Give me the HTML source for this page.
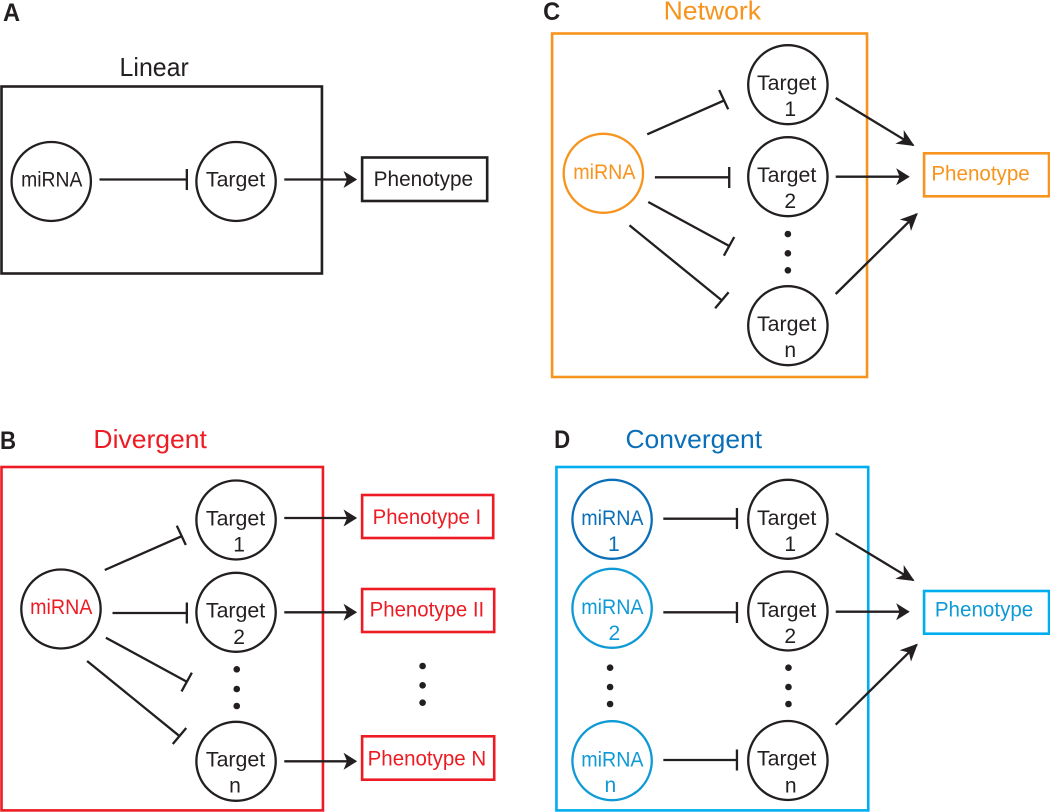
<!DOCTYPE html>
<html><head><meta charset="utf-8"><style>
html,body{margin:0;padding:0;background:#fff}
svg{display:block}
text{font-family:"Liberation Sans",sans-serif;font-size:21px;fill:#231f20}
.h{font-size:26px}
.l{font-size:25px;font-weight:bold}
.b{fill:none;stroke-width:2.6}
.c{fill:#fff;fill-opacity:0;stroke:#231f20;stroke-width:2.3}
.i{stroke:#231f20;stroke-width:2.3;fill:none}
.a{stroke:#231f20;stroke-width:2.3;fill:none;marker-end:url(#ah)}
.g{stroke:#231f20;stroke-width:2.3;fill:none;marker-end:url(#ag)}
.d{fill:#231f20}
.o{fill:#f7941e}.r{fill:#ed1c24}.u{fill:#0f9ad6}.v{fill:#0a6fb8}
</style></head><body>
<svg width="1050" height="812" viewBox="0 0 1050 812" xmlns="http://www.w3.org/2000/svg">
<defs>
<marker id="ah" markerUnits="userSpaceOnUse" markerWidth="16" markerHeight="18" refX="12" refY="9" orient="auto">
<path d="M0,0.5 L13.5,9 L0,17.5 L3.5,9 Z" fill="#231f20"/>
</marker>
<marker id="ag" markerUnits="userSpaceOnUse" markerWidth="20" markerHeight="18" refX="16" refY="9" orient="auto">
<path d="M0,1 L17.5,9 L0,17 L5,9 Z" fill="#231f20"/>
</marker>
</defs>

<!-- Panel A -->
<g transform="scale(1.0045,1)">
<text class="l" x="3" y="21" textLength="17" lengthAdjust="spacingAndGlyphs">A</text>
<text class="h" x="119" y="76" textLength="69" lengthAdjust="spacingAndGlyphs">Linear</text>
<rect class="b" x="1.5" y="86.5" width="319" height="187" stroke="#231f20"/>
<circle class="c" cx="51" cy="181.5" r="39.5"/>
<circle class="c" cx="235" cy="181.5" r="39.5"/>
<text x="21" y="186.7" textLength="61" lengthAdjust="spacingAndGlyphs">miRNA</text>
<text x="205" y="186.7" textLength="59" lengthAdjust="spacingAndGlyphs">Target</text>
<path class="i" d="M99,179.5H186M186,169V190"/>
<path class="a" d="M283,179.5H354"/>
<rect class="b" x="360.5" y="157.5" width="124.5" height="43.5" stroke="#231f20"/>
<text x="372" y="186" textLength="99" lengthAdjust="spacingAndGlyphs">Phenotype</text>
</g>

<!-- Panel B -->
<g transform="scale(1.0045,1)">
<text class="l" x="0" y="449" textLength="16" lengthAdjust="spacingAndGlyphs">B</text>
<text class="h r" x="93" y="448" textLength="113" lengthAdjust="spacingAndGlyphs">Divergent</text>
<rect class="b" x="1.5" y="467" width="320" height="343.4" stroke="#ed1c24"/>
<circle class="c" cx="60.7" cy="609" r="39.5"/>
<text class="r" x="30" y="614" textLength="62" lengthAdjust="spacingAndGlyphs">miRNA</text>
<circle class="c" cx="235" cy="520" r="39.5"/>
<circle class="c" cx="235" cy="612.3" r="39.5"/>
<circle class="c" cx="235" cy="761.3" r="39.5"/>
<text x="205" y="525.7" textLength="59" lengthAdjust="spacingAndGlyphs">Target</text>
<text x="238" y="551.7" text-anchor="middle">1</text>
<text x="205" y="617.7" textLength="59" lengthAdjust="spacingAndGlyphs">Target</text>
<text x="238" y="644" text-anchor="middle">2</text>
<text x="205" y="766.7" textLength="59" lengthAdjust="spacingAndGlyphs">Target</text>
<text x="234" y="792.7" text-anchor="middle">n</text>
<path class="i" d="M104.3,570L180.3,536.4M176,525.7L185,545"/>
<path class="i" d="M112,613H186M186,602.5V623.5"/>
<path class="i" d="M105.4,637.7L186,681.7M191,672.7L180.7,691.4"/>
<path class="i" d="M86.7,661L179.4,736.7M185.4,728L172,744"/>
<circle class="d" cx="235.7" cy="669.3" r="3.3"/><circle class="d" cx="235.7" cy="689" r="3.3"/><circle class="d" cx="235.7" cy="706" r="3.3"/>
<path class="a" d="M283,518H354"/>
<path class="a" d="M283,612.3H354"/>
<path class="a" d="M283,761.3H354"/>
<rect class="b" x="360.5" y="495" width="130.5" height="43" stroke="#ed1c24"/>
<rect class="b" x="360.5" y="589" width="131.5" height="43" stroke="#ed1c24"/>
<rect class="b" x="360.5" y="736.3" width="131.5" height="43.4" stroke="#ed1c24"/>
<text class="r" x="371" y="524" textLength="108" lengthAdjust="spacingAndGlyphs">Phenotype I</text>
<text class="r" x="368" y="616.7" textLength="114" lengthAdjust="spacingAndGlyphs">Phenotype II</text>
<text class="r" x="366" y="765.7" textLength="118" lengthAdjust="spacingAndGlyphs">Phenotype N</text>
<circle class="d" cx="420.7" cy="666" r="3.3"/><circle class="d" cx="420.7" cy="685.3" r="3.3"/><circle class="d" cx="420.7" cy="702.7" r="3.3"/>
</g>

<!-- Panel C -->
<g transform="translate(525,0) scale(1.0045,1) translate(-525,0)">
<text class="l" x="543" y="20" textLength="17" lengthAdjust="spacingAndGlyphs">C</text>
<text class="h o" x="663" y="19.3" textLength="97" lengthAdjust="spacingAndGlyphs">Network</text>
<rect class="b" x="552" y="33.5" width="313.5" height="343.5" stroke="#f7941e"/>
<circle class="c" cx="603" cy="173.3" r="39.5" style="stroke:#f7941e"/>
<text class="o" x="573" y="179" textLength="62" lengthAdjust="spacingAndGlyphs">miRNA</text>
<circle class="c" cx="786.7" cy="84.7" r="39.5"/>
<circle class="c" cx="786.7" cy="176.7" r="39.5"/>
<circle class="c" cx="786.7" cy="325.7" r="39.5"/>
<text x="756" y="90" textLength="59" lengthAdjust="spacingAndGlyphs">Target</text>
<text x="789" y="116" text-anchor="middle">1</text>
<text x="756" y="182" textLength="59" lengthAdjust="spacingAndGlyphs">Target</text>
<text x="789" y="208" text-anchor="middle">2</text>
<text x="756" y="331" textLength="59" lengthAdjust="spacingAndGlyphs">Target</text>
<text x="789" y="357" text-anchor="middle">n</text>
<path class="i" d="M646.7,134.3L722.7,100.7M718.3,90L727.3,109.3"/>
<path class="i" d="M654.3,177.3H728.3M728.3,167V188"/>
<path class="i" d="M647.7,202L728.3,246M733.3,237L723,255.7"/>
<path class="i" d="M629,225.3L721.7,301M727.7,292.3L714.3,308.3"/>
<circle class="d" cx="786.7" cy="234" r="3.3"/><circle class="d" cx="786.7" cy="253.3" r="3.3"/><circle class="d" cx="786.7" cy="270.3" r="3.3"/>
<path class="g" d="M834.3,98L911.5,145.2"/>
<path class="a" d="M834.3,176.7H906.5"/>
<path class="g" d="M834.3,294L915,214"/>
<rect class="b" x="922.3" y="153.3" width="124.4" height="43" stroke="#f7941e"/>
<text class="o" x="929.5" y="180.7" textLength="98" lengthAdjust="spacingAndGlyphs">Phenotype</text>
</g>

<!-- Panel D -->
<g transform="translate(525,0) scale(1.0045,1) translate(-525,0)">
<text class="l" x="554" y="448" textLength="16" lengthAdjust="spacingAndGlyphs">D</text>
<text class="h v" x="625" y="448" textLength="136" lengthAdjust="spacingAndGlyphs">Convergent</text>
<rect class="b" x="556.3" y="467" width="310.4" height="343.4" stroke="#00aeef"/>
<circle class="c" cx="611.7" cy="519.3" r="39.5" style="stroke:#0a6fb8"/>
<circle class="c" cx="611.7" cy="608.3" r="39.5" style="stroke:#0f9ad6"/>
<circle class="c" cx="611.7" cy="760.7" r="39.5" style="stroke:#0f9ad6"/>
<text class="v" x="581" y="525" textLength="62" lengthAdjust="spacingAndGlyphs">miRNA</text>
<text class="v" x="613.5" y="551" text-anchor="middle">1</text>
<text class="u" x="581" y="614" textLength="62" lengthAdjust="spacingAndGlyphs">miRNA</text>
<text class="u" x="614" y="640" text-anchor="middle">2</text>
<text class="u" x="581" y="766.3" textLength="62" lengthAdjust="spacingAndGlyphs">miRNA</text>
<text class="u" x="610" y="792" text-anchor="middle">n</text>
<circle class="c" cx="786.7" cy="519.3" r="39.5"/>
<circle class="c" cx="786.7" cy="611" r="39.5"/>
<circle class="c" cx="786.7" cy="760.5" r="39.5"/>
<text x="756" y="525" textLength="59" lengthAdjust="spacingAndGlyphs">Target</text>
<text x="789" y="551" text-anchor="middle">1</text>
<text x="756" y="617" textLength="59" lengthAdjust="spacingAndGlyphs">Target</text>
<text x="789" y="643" text-anchor="middle">2</text>
<text x="756" y="765.7" textLength="59" lengthAdjust="spacingAndGlyphs">Target</text>
<text x="789.5" y="792.5" text-anchor="middle">n</text>
<path class="i" d="M662.7,518.7H736M736,508V529"/>
<path class="i" d="M662.7,612.3H736M736,602V623"/>
<path class="i" d="M662.7,760H736M736,749.5V770.5"/>
<circle class="d" cx="609.7" cy="667.7" r="3.3"/><circle class="d" cx="609.7" cy="687" r="3.3"/><circle class="d" cx="609.7" cy="704" r="3.3"/>
<circle class="d" cx="787.3" cy="667.7" r="3.3"/><circle class="d" cx="787.3" cy="687" r="3.3"/><circle class="d" cx="787.3" cy="704" r="3.3"/>
<path class="g" d="M834.3,533.3L911.5,580.2"/>
<path class="a" d="M834.3,611.7H906.5"/>
<path class="g" d="M834.3,724.7L915,644.7"/>
<rect class="b" x="922.3" y="591" width="124.4" height="42.7" stroke="#00aeef"/>
<text class="u" x="933" y="616.7" textLength="98" lengthAdjust="spacingAndGlyphs">Phenotype</text>
</g>
</svg>
</body></html>
